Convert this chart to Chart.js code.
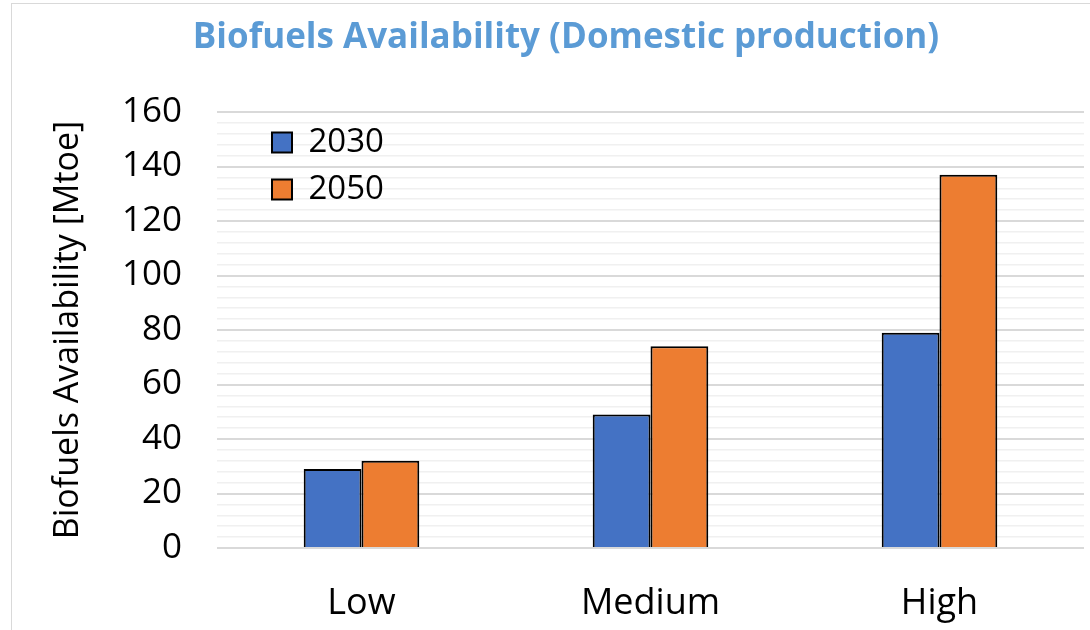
<!DOCTYPE html>
<html>
<head>
<meta charset="utf-8">
<script src="https://cdn.jsdelivr.net/npm/chart.js@4/dist/chart.umd.min.js"></script>
<style>
  html, body { margin: 0; padding: 0; background: #fff; overflow: hidden; }
  #wrap { position: absolute; left: 0; top: 0; width: 1090px; height: 630px; }
  #frame { position: absolute; left: 11px; top: 3px; width: 1200px; height: 800px; border: 1px solid #d9d9d9; pointer-events: none; }
</style>
</head>
<body>
<div id="wrap"><canvas id="c" width="1090" height="630"></canvas></div>
<div id="frame"></div>
<script>
const categories = ['Low', 'Medium', 'High'];
const seriesNames = ['2030', '2050'];
const values2030 = [29, 49, 79];
const values2050 = [32, 74, 137];
const yTickLabels = [0, 20, 40, 60, 80, 100, 120, 140, 160];

const FONT = "'Open Sans', 'DejaVu Sans', sans-serif";

const legendPlacer = {
  id: 'legendPlacer',
  afterLayout(chart) {
    const lg = chart.legend;
    const ca = chart.chartArea;
    const w = lg.width, h = lg.height;
    lg.left = ca.left + 41;
    lg.top = ca.top;
    lg.right = lg.left + w;
    lg.bottom = lg.top + h;
  }
};

new Chart(document.getElementById('c'), {
  type: 'bar',
  data: {
    labels: categories,
    datasets: [
      { label: seriesNames[0], data: values2030, backgroundColor: '#4472C4', borderColor: '#000000', borderWidth: 2 },
      { label: seriesNames[1], data: values2050, backgroundColor: '#ED7D31', borderColor: '#000000', borderWidth: 2 }
    ]
  },
  options: {
    responsive: false,
    animation: false,
    devicePixelRatio: 1,
    layout: { padding: { left: 48, right: 6, top: 0, bottom: 0 } },
    datasets: { bar: { categoryPercentage: 0.4, barPercentage: 1.0 } },
    plugins: {
      title: {
        display: true,
        text: 'Biofuels Availability (Domestic production)',
        color: '#5B9BD5',
        font: { family: FONT, size: 35, weight: 'bold' },
        padding: { top: 17, bottom: 53 }
      },
      legend: {
        display: true,
        position: 'chartArea',
        align: 'start',
        labels: {
          boxWidth: 20,
          boxHeight: 20,
          padding: 14,
          color: '#000',
          font: { family: FONT, size: 33 }
        }
      },
      tooltip: { enabled: false }
    },
    scales: {
      x: {
        grid: { display: false },
        border: { display: false },
        ticks: { color: '#000', font: { family: FONT, size: 36 }, padding: 26 },
        afterFit(scale) { scale.height = 82; }
      },
      y: {
        min: 0,
        max: 160,
        border: { display: false },
        grid: {
          drawTicks: false,
          color: (ctx) => (ctx.tick && yTickLabels.includes(ctx.tick.value)) ? '#d9d9d9' : '#f0f0f0',
          lineWidth: (ctx) => (ctx.tick && yTickLabels.includes(ctx.tick.value)) ? 2 : 1.5
        },
        ticks: {
          stepSize: 4,
          autoSkip: false,
          padding: 35,
          color: '#000',
          font: { family: FONT, size: 35 },
          callback: (v) => yTickLabels.includes(v) ? String(v) : ''
        },
        title: {
          display: true,
          text: 'Biofuels Availability [Mtoe]',
          color: '#000',
          font: { family: FONT, size: 34 },
          padding: { top: 0, bottom: 0 }
        },
        afterFit(scale) { scale.width = 169; }
      }
    }
  },
  plugins: [legendPlacer]
});
</script>
</body>
</html>
